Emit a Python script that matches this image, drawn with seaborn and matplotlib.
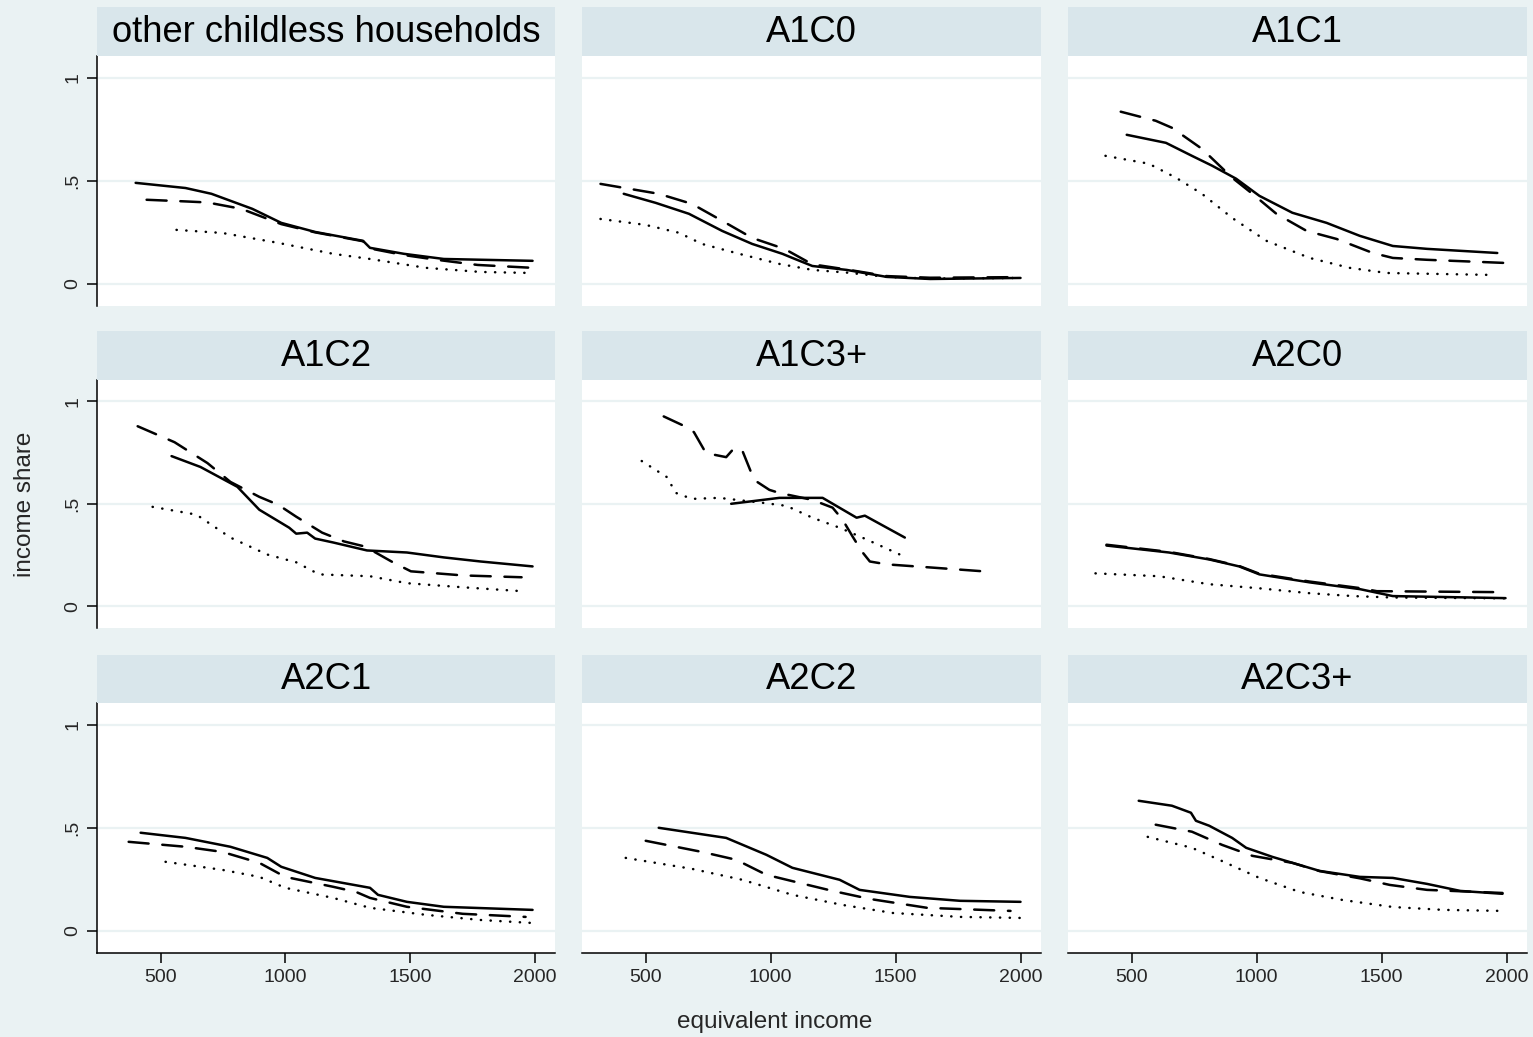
import matplotlib
matplotlib.use("Agg")
import matplotlib.pyplot as plt
import pandas as pd
import seaborn as sns

# ---- data: income share by equivalent income, three estimates per household type ----
panels = ["other childless households", "A1C0", "A1C1",
          "A1C2", "A1C3+", "A2C0",
          "A2C1", "A2C2", "A2C3+"]
series_names = ["est1", "est2", "est3"]

och_est1_x = [400, 600, 704, 868, 984, 1120, 1312, 1340, 1476, 1636, 1992]
och_est1_y = [0.490, 0.465, 0.437, 0.364, 0.296, 0.252, 0.209, 0.175, 0.146, 0.121, 0.112]
och_est2_x = [444, 600, 688, 824, 984, 1120, 1312, 1340, 1476, 1608, 1772, 1992]
och_est2_y = [0.408, 0.400, 0.395, 0.364, 0.290, 0.250, 0.207, 0.172, 0.140, 0.117, 0.092, 0.078]
och_est3_x = [564, 748, 972, 1192, 1340, 1564, 1784, 1992]
och_est3_y = [0.262, 0.247, 0.199, 0.146, 0.121, 0.078, 0.058, 0.053]

a1c0_est1_x = [412, 540, 673, 806, 926, 1047, 1087, 1167, 1304, 1465, 1638, 2000]
a1c0_est1_y = [0.437, 0.393, 0.340, 0.257, 0.194, 0.146, 0.126, 0.087, 0.068, 0.034, 0.024, 0.029]
a1c0_est2_x = [319, 552, 685, 806, 926, 1055, 1167, 1304, 1465, 1638, 2000]
a1c0_est2_y = [0.485, 0.437, 0.388, 0.306, 0.223, 0.170, 0.095, 0.070, 0.038, 0.030, 0.033]
a1c0_est3_x = [319, 500, 633, 725, 874, 1035, 1167, 1304, 1465, 1638, 2000]
a1c0_est3_y = [0.315, 0.286, 0.248, 0.194, 0.146, 0.097, 0.068, 0.055, 0.034, 0.026, 0.029]

a1c1_est1_x = [480, 637, 741, 822, 918, 1011, 1143, 1280, 1413, 1545, 1682, 1963]
a1c1_est1_y = [0.723, 0.684, 0.621, 0.573, 0.510, 0.427, 0.345, 0.296, 0.233, 0.184, 0.170, 0.150]
a1c1_est2_x = [456, 596, 661, 781, 902, 983, 1079, 1200, 1320, 1465, 1545, 1682, 1988]
a1c1_est2_y = [0.835, 0.791, 0.757, 0.655, 0.515, 0.437, 0.340, 0.257, 0.218, 0.150, 0.126, 0.117, 0.102]
a1c1_est3_x = [395, 568, 677, 781, 902, 1039, 1212, 1372, 1521, 1923]
a1c1_est3_y = [0.621, 0.583, 0.515, 0.437, 0.320, 0.209, 0.126, 0.078, 0.053, 0.044]

a1c2_est1_x = [544, 660, 808, 896, 1016, 1044, 1088, 1120, 1192, 1328, 1488, 1636, 1784, 1992]
a1c2_est1_y = [0.733, 0.680, 0.583, 0.471, 0.383, 0.354, 0.359, 0.330, 0.311, 0.272, 0.262, 0.238, 0.218, 0.194]
a1c2_est2_x = [408, 556, 688, 780, 896, 972, 1044, 1148, 1236, 1320, 1432, 1504, 1712, 1948]
a1c2_est2_y = [0.879, 0.801, 0.699, 0.607, 0.534, 0.495, 0.437, 0.359, 0.316, 0.291, 0.214, 0.170, 0.150, 0.141]
a1c2_est3_x = [468, 644, 780, 928, 1044, 1136, 1340, 1488, 1712, 1948]
a1c2_est3_y = [0.485, 0.447, 0.335, 0.252, 0.214, 0.155, 0.146, 0.112, 0.092, 0.073]

a1c3_est1_x = [842, 1035, 1208, 1344, 1377, 1537]
a1c3_est1_y = [0.500, 0.529, 0.529, 0.432, 0.442, 0.335]
a1c3_est2_x = [572, 665, 693, 741, 781, 822, 854, 886, 926, 946, 995, 1035,
               1167, 1248, 1288, 1328, 1365, 1397, 1465, 1638, 1851]
a1c3_est2_y = [0.927, 0.874, 0.850, 0.748, 0.738, 0.728, 0.772, 0.762, 0.641, 0.607, 0.568, 0.553,
               0.519, 0.481, 0.422, 0.340, 0.267, 0.218, 0.204, 0.189, 0.170]
a1c3_est3_x = [484, 584, 621, 685, 794, 966, 1063, 1167, 1276, 1385, 1517]
a1c3_est3_y = [0.709, 0.631, 0.553, 0.524, 0.529, 0.505, 0.490, 0.432, 0.383, 0.325, 0.252]

a2c0_est1_x = [399, 649, 810, 930, 1011, 1212, 1413, 1545, 1996]
a2c0_est1_y = [0.296, 0.262, 0.228, 0.194, 0.155, 0.116, 0.083, 0.049, 0.039]
a2c0_est2_x = [399, 649, 810, 930, 1011, 1212, 1413, 1481, 1996]
a2c0_est2_y = [0.300, 0.265, 0.230, 0.196, 0.158, 0.120, 0.088, 0.073, 0.068]
a2c0_est3_x = [355, 609, 810, 1011, 1212, 1385, 1545, 1996]
a2c0_est3_y = [0.160, 0.146, 0.107, 0.087, 0.063, 0.049, 0.042, 0.038]

a2c1_est1_x = [420, 600, 780, 928, 984, 1120, 1340, 1372, 1488, 1636, 1992]
a2c1_est1_y = [0.476, 0.451, 0.408, 0.354, 0.311, 0.257, 0.209, 0.175, 0.141, 0.117, 0.102]
a2c1_est2_x = [372, 600, 748, 896, 1000, 1192, 1284, 1340, 1488, 1712, 1964]
a2c1_est2_y = [0.432, 0.408, 0.383, 0.330, 0.262, 0.214, 0.189, 0.160, 0.117, 0.083, 0.068]
a2c1_est3_x = [520, 748, 896, 1000, 1192, 1340, 1564, 1784, 1984]
a2c1_est3_y = [0.335, 0.296, 0.262, 0.209, 0.160, 0.112, 0.078, 0.053, 0.039]

a2c2_est1_x = [552, 822, 983, 1087, 1276, 1356, 1557, 1758, 2000]
a2c2_est1_y = [0.500, 0.451, 0.369, 0.306, 0.248, 0.199, 0.165, 0.146, 0.141]
a2c2_est2_x = [500, 725, 862, 983, 1115, 1248, 1397, 1626, 1960]
a2c2_est2_y = [0.437, 0.383, 0.345, 0.272, 0.233, 0.194, 0.155, 0.112, 0.097]
a2c2_est3_x = [420, 685, 886, 1087, 1288, 1489, 1758, 2000]
a2c2_est3_y = [0.354, 0.301, 0.248, 0.175, 0.126, 0.087, 0.068, 0.063]

a2c3_est1_x = [528, 661, 737, 757, 810, 902, 958, 1063, 1252, 1413, 1545, 1682, 1815, 1984]
a2c3_est1_y = [0.631, 0.607, 0.573, 0.534, 0.510, 0.451, 0.403, 0.359, 0.291, 0.262, 0.257, 0.228, 0.194, 0.180]
a2c3_est2_x = [596, 741, 862, 983, 1143, 1252, 1413, 1533, 1682, 1984]
a2c3_est2_y = [0.515, 0.481, 0.417, 0.364, 0.330, 0.290, 0.255, 0.223, 0.199, 0.184]
a2c3_est3_x = [564, 741, 850, 1011, 1172, 1344, 1545, 1746, 1984]
a2c3_est3_y = [0.456, 0.403, 0.345, 0.257, 0.189, 0.150, 0.116, 0.102, 0.097]

x_ticks = [500, 1000, 1500, 2000]
y_ticks = [0, 0.5, 1]
y_tick_labels = ["0", ".5", "1"]

panel_series = {
    "other childless households": [(och_est1_x, och_est1_y), (och_est2_x, och_est2_y), (och_est3_x, och_est3_y)],
    "A1C0": [(a1c0_est1_x, a1c0_est1_y), (a1c0_est2_x, a1c0_est2_y), (a1c0_est3_x, a1c0_est3_y)],
    "A1C1": [(a1c1_est1_x, a1c1_est1_y), (a1c1_est2_x, a1c1_est2_y), (a1c1_est3_x, a1c1_est3_y)],
    "A1C2": [(a1c2_est1_x, a1c2_est1_y), (a1c2_est2_x, a1c2_est2_y), (a1c2_est3_x, a1c2_est3_y)],
    "A1C3+": [(a1c3_est1_x, a1c3_est1_y), (a1c3_est2_x, a1c3_est2_y), (a1c3_est3_x, a1c3_est3_y)],
    "A2C0": [(a2c0_est1_x, a2c0_est1_y), (a2c0_est2_x, a2c0_est2_y), (a2c0_est3_x, a2c0_est3_y)],
    "A2C1": [(a2c1_est1_x, a2c1_est1_y), (a2c1_est2_x, a2c1_est2_y), (a2c1_est3_x, a2c1_est3_y)],
    "A2C2": [(a2c2_est1_x, a2c2_est1_y), (a2c2_est2_x, a2c2_est2_y), (a2c2_est3_x, a2c2_est3_y)],
    "A2C3+": [(a2c3_est1_x, a2c3_est1_y), (a2c3_est2_x, a2c3_est2_y), (a2c3_est3_x, a2c3_est3_y)],
}

rows = []
for panel, lst in panel_series.items():
    for name, (xs, ys) in zip(series_names, lst):
        for xv, yv in zip(xs, ys):
            rows.append({"panel": panel, "series": name, "income": xv, "share": yv})
df = pd.DataFrame(rows)

# ---- styling ----
sns.set_style("white")
plt.rcParams["font.family"] = ["Liberation Sans", "DejaVu Sans"]

BG = "#EAF2F3"
STRIP = "#D9E6EB"
GRID = "#EAF2F3"

W, H = 1533, 1037
fig = plt.figure(figsize=(W / 100, H / 100), dpi=100, facecolor=BG)

col_left = [97, 582, 1068]
col_width = [458, 459, 459]
row_plot = [(56, 306), (380, 628), (703, 953)]
row_strip_top = [7, 331, 655]

line_dashes = {"est1": "", "est2": (8, 5.5), "est3": (0.1, 3.8)}

for i, panel in enumerate(panels):
    r, c = divmod(i, 3)
    top, bot = row_plot[r]
    ax = fig.add_axes([col_left[c] / W, 1 - bot / H, col_width[c] / W, (bot - top) / H])
    ax.set_facecolor("white")

    sub = df[df["panel"] == panel]
    sns.lineplot(data=sub, x="income", y="share", style="series",
                 style_order=series_names, dashes=line_dashes,
                 color="black", lw=1.8, dash_capstyle="round",
                 solid_capstyle="round", solid_joinstyle="round",
                 estimator=None, legend=False, ax=ax)

    ax.set_xlim(245, 2082)
    ax.set_ylim(-0.107, 1.105)
    ax.set_xlabel("")
    ax.set_ylabel("")
    ax.set_yticks(y_ticks)
    ax.grid(axis="y", color=GRID, lw=1.6)
    ax.grid(axis="x", visible=False)
    ax.set_axisbelow(True)

    for s in ax.spines.values():
        s.set_visible(False)

    if c == 0:
        ax.spines["left"].set_visible(True)
        ax.spines["left"].set_color("black")
        ax.spines["left"].set_linewidth(1.1)
        ax.set_yticklabels(y_tick_labels, rotation=90, va="center", fontsize=14)
        ax.tick_params(axis="y", length=7.5, width=1.1, color="black", pad=4, left=True)
    else:
        ax.set_yticklabels([])
        ax.tick_params(axis="y", length=0)

    if r == 2:
        ax.spines["bottom"].set_visible(True)
        ax.spines["bottom"].set_color("black")
        ax.spines["bottom"].set_linewidth(1.1)
        ax.set_xticks(x_ticks)
        ax.set_xticklabels([str(t) for t in x_ticks], fontsize=14)
        ax.tick_params(axis="x", length=7.5, width=1.1, color="black", pad=4, bottom=True)
    else:
        ax.set_xticks([])

    # panel heading strip
    st = row_strip_top[r]
    hax = fig.add_axes([col_left[c] / W, 1 - top / H, col_width[c] / W, (top - st) / H])
    hax.set_facecolor(STRIP)
    hax.set_xticks([])
    hax.set_yticks([])
    for s in hax.spines.values():
        s.set_visible(False)
    hax.text(0.5, 0.48, panel, ha="center", va="center", fontsize=26.2,
             color="black", transform=hax.transAxes)

fig.text(25 / W, 1 - 504 / H, "income share", rotation=90, ha="center", va="center", fontsize=17.5)
fig.text(775 / W, 1 - 1022 / H, "equivalent income", ha="center", va="center", fontsize=17.5)

fig.savefig("out.png", dpi=100, facecolor=BG)
